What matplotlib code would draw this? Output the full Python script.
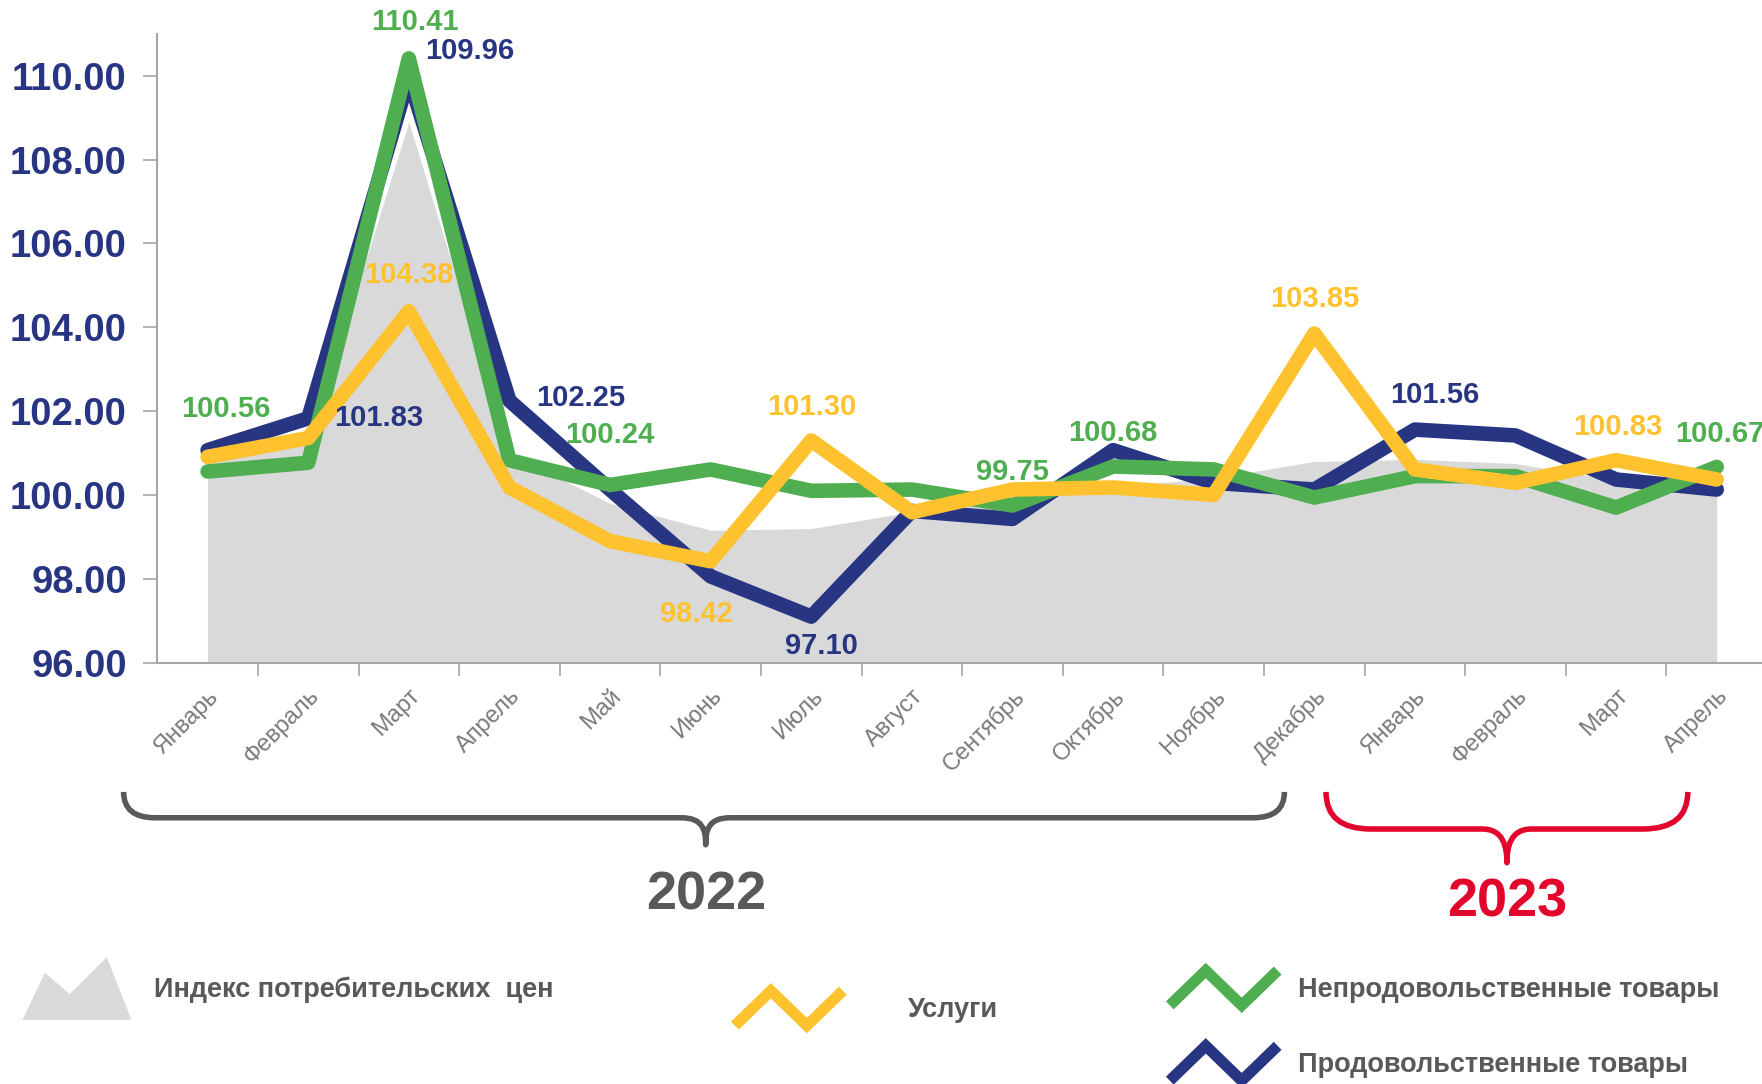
import numpy as np
import matplotlib
matplotlib.use("Agg")
import matplotlib.pyplot as plt
from matplotlib.path import Path
from matplotlib.patches import PathPatch, Polygon
from matplotlib.lines import Line2D

plt.rcParams['font.family'] = ['Liberation Sans', 'DejaVu Sans']

# --- data ---
months = ['Январь', 'Февраль', 'Март', 'Апрель', 'Май', 'Июнь', 'Июль', 'Август',
          'Сентябрь', 'Октябрь', 'Ноябрь', 'Декабрь',
          'Январь', 'Февраль', 'Март', 'Апрель']
cpi = [100.9, 101.2, 108.9, 101.0, 99.8, 99.16, 99.2, 99.6, 100.0, 100.2, 100.4, 100.8,
       100.85, 100.75, 100.35, 100.15]
food = [101.07, 101.83, 109.96, 102.25, 100.13, 98.06, 97.10, 99.62, 99.43, 101.07, 100.29, 100.13,
        101.56, 101.42, 100.37, 100.13]
nonfood = [100.56, 100.77, 110.41, 100.83, 100.24, 100.61, 100.10, 100.13, 99.75, 100.68, 100.61, 99.94,
           100.45, 100.45, 99.70, 100.67]
services = [100.91, 101.36, 104.38, 100.18, 98.90, 98.42, 101.30, 99.59, 100.13, 100.18, 100.0, 103.85,
            100.61, 100.29, 100.83, 100.37]
yticks = [96, 98, 100, 102, 104, 106, 108, 110]

# labelled points: (index, dx, dy in points)
food_labels = [(1, 51, 0), (2, 44, 19), (3, 51, 2), (6, 7, -21), (12, 14, 25)]
nonfood_labels = [(0, 13, 45), (2, 4, 26), (4, 0, 36), (8, 0, 24), (9, 0, 24), (15, 2, 24)]
services_labels = [(2, 0, 26), (5, -10, -38), (6, 0, 24), (11, 0, 25), (14, 1, 24)]

NAVY = '#283583'
GREEN = '#4FAE4F'
YELLOW = '#FFC22F'
GREYFILL = '#D9D9D9'
DARK = '#595959'
RED = '#E2062D'

W, H = 1568.0, 965.0  # reference layout units


def fx(px):
    return px / W


def fy(py):
    return 1 - py / H


fig = plt.figure(figsize=(17.62, 10.84), dpi=100)
ax = fig.add_axes([fx(140), fy(590), fx(1568) - fx(140), fy(30) - fy(590)])

x = np.arange(len(months))
ax.fill_between(x, 96, cpi, color=GREYFILL, lw=0, zorder=1)
lw = 10.5
ax.plot(x, food, color=NAVY, lw=lw, solid_capstyle='round', solid_joinstyle='round', zorder=2)
ax.plot(x, nonfood, color=GREEN, lw=lw, solid_capstyle='round', solid_joinstyle='round', zorder=3)
ax.plot(x, services, color=YELLOW, lw=lw, solid_capstyle='round', solid_joinstyle='round', zorder=4)

for vals, labs, col in [(food, food_labels, NAVY), (nonfood, nonfood_labels, GREEN),
                        (services, services_labels, YELLOW)]:
    for i, dx, dy in labs:
        ax.annotate(f'{vals[i]:.2f}', (i, vals[i]), xytext=(dx, dy), textcoords='offset points',
                    ha='center', va='center', fontsize=21, fontweight='bold', color=col, zorder=6)

ax.set_xlim(-0.5, 15.45)
ax.set_ylim(96, 111)
ax.set_yticks(yticks)
ax.set_yticklabels([f'{v:.2f}' for v in yticks], fontsize=27.5, fontweight='bold', color=NAVY)
ax.tick_params(axis='y', length=10, width=1.2, color='#A6A6A6', pad=12)

ax.set_xticks(x)
ax.set_xticklabels(months, rotation=45, ha='right', va='top', rotation_mode='anchor',
                   fontsize=17, color='#7A7A7A')
ax.tick_params(axis='x', which='major', length=0, pad=16)
ax.set_xticks(np.arange(0.5, 15.5, 1), minor=True)
ax.tick_params(axis='x', which='minor', length=9, width=1.2, color='#A6A6A6')

for s in ['top', 'right']:
    ax.spines[s].set_visible(False)
for s in ['left', 'bottom']:
    ax.spines[s].set_color('#A6A6A6')
    ax.spines[s].set_linewidth(1.5)
ax.set_facecolor('none')


def brace(x0, x1, ytop, ymid, xm, ytip, color, r=28):
    pts = [(x0, ytop), (x0, ymid), (x0 + r, ymid),
           (xm - 22, ymid),
           (xm - 3, ymid), (xm, ytip - 14), (xm, ytip),
           (xm, ytip - 14), (xm + 3, ymid), (xm + 22, ymid),
           (x1 - r, ymid),
           (x1, ymid), (x1, ytop)]
    codes = [Path.MOVETO, Path.CURVE3, Path.CURVE3, Path.LINETO,
             Path.CURVE4, Path.CURVE4, Path.CURVE4,
             Path.CURVE4, Path.CURVE4, Path.CURVE4,
             Path.LINETO, Path.CURVE3, Path.CURVE3]
    verts = [(fx(a), fy(b)) for a, b in pts]
    fig.add_artist(PathPatch(Path(verts, codes), transform=fig.transFigure, fill=False,
                             edgecolor=color, lw=4, capstyle='butt', joinstyle='round'))


brace(110, 1143, 705, 728, 628, 752, DARK)
brace(1180, 1502, 705, 738, 1341, 768, RED, r=40)
fig.text(fx(628), fy(797), '2022', ha='center', va='center', fontsize=39, fontweight='bold', color=DARK)
fig.text(fx(1341), fy(803), '2023', ha='center', va='center', fontsize=39, fontweight='bold', color=RED)

# legend
mountain = [(20, 908), (40, 866), (62, 885), (95, 852), (117, 908)]
fig.add_artist(Polygon([(fx(a), fy(b)) for a, b in mountain], closed=True,
                       transform=fig.transFigure, color=GREYFILL, lw=0))


def zigzag(x0, ytop, ybot, color):
    xs = [x0, x0 + 32, x0 + 64, x0 + 96]
    ys = [ybot, ytop, ybot, ytop]
    fig.add_artist(Line2D([fx(v) for v in xs], [fy(v) for v in ys], transform=fig.transFigure,
                          color=color, lw=8, solid_joinstyle='miter', solid_capstyle='butt'))


zigzag(654, 882, 913, YELLOW)
zigzag(1041, 864, 895, GREEN)
zigzag(1041, 931, 962, NAVY)

leg_kw = dict(ha='left', va='center', fontsize=19.5, fontweight='bold', color=DARK)
fig.text(fx(137), fy(881), 'Индекс потребительских  цен', **leg_kw)
fig.text(fx(808), fy(899), 'Услуги', **leg_kw)
fig.text(fx(1155), fy(881), 'Непродовольственные товары', **leg_kw)
fig.text(fx(1155), fy(948), 'Продовольственные товары', **leg_kw)

fig.savefig('out.png', dpi=100, facecolor='white')
